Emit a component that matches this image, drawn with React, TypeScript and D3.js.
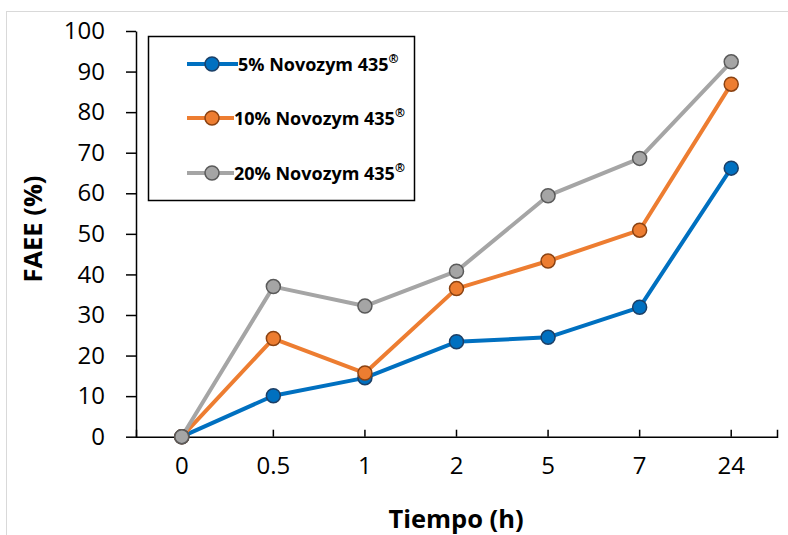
import React, { useRef, useEffect } from 'react';
import * as d3 from 'd3';

// values
const tiempos = ['0', '0.5', '1', '2', '5', '7', '24'];
const serie5 = [0, 10.1, 14.5, 23.4, 24.5, 31.9, 66.2];
const serie10 = [0, 24.2, 15.7, 36.5, 43.3, 50.9, 86.9];
const serie20 = [0, 37.0, 32.2, 40.8, 59.4, 68.6, 92.4];
const yTicks = [0, 10, 20, 30, 40, 50, 60, 70, 80, 90, 100];
const seriesNames = ['5% Novozym 435', '10% Novozym 435', '20% Novozym 435'];

const App = () => {
  const chartRef = useRef<SVGSVGElement | null>(null);

  useEffect(() => {
    if (!chartRef.current) return;
    const svg = d3.select(chartRef.current);
    svg.selectAll('*').remove();

    const width = 788;
    const height = 535;
    const margin = { top: 31, right: 11, bottom: 98.3, left: 136 };
    const font = "'Open Sans', 'Liberation Sans', sans-serif";

    const series = [
      { name: seriesNames[0], values: serie5, color: '#0070C0', edge: '#1c3f66' },
      { name: seriesNames[1], values: serie10, color: '#ED7D31', edge: '#8a4212' },
      { name: seriesNames[2], values: serie20, color: '#A5A5A5', edge: '#5a5a5a' },
    ];

    // outer chart area border (runs off the right and bottom of the picture)
    svg.append('rect')
      .attr('x', 6.5)
      .attr('y', 11.5)
      .attr('width', width + 20)
      .attr('height', height + 20)
      .attr('fill', '#fff')
      .attr('stroke', '#d9d9d9')
      .attr('stroke-width', 1);

    const x = d3.scaleBand()
      .domain(tiempos)
      .range([margin.left, width - margin.right]);

    const y = d3.scaleLinear()
      .domain([0, 100])
      .range([height - margin.bottom, margin.top]);

    const cx = (d: string) => (x(d) as number) + x.bandwidth() / 2;

    // y axis
    const yAxis = svg.append('g')
      .attr('transform', `translate(${margin.left},0)`)
      .call(d3.axisLeft(y).tickValues(yTicks).tickSize(10).tickSizeOuter(0).tickPadding(21));
    yAxis.select('.domain').attr('stroke', '#000').attr('stroke-width', 1.5);
    yAxis.selectAll('.tick line').attr('stroke', '#000').attr('stroke-width', 1.5);
    yAxis.selectAll('.tick text')
      .attr('fill', '#000')
      .style('font-family', font)
      .style('font-size', '24px');

    // x axis, ticks point up into the plot
    const xAxis = svg.append('g')
      .attr('transform', `translate(0,${height - margin.bottom})`)
      .call(d3.axisBottom(x).tickSize(-7).tickSizeOuter(-7).tickPadding(20));
    xAxis.select('.domain').attr('stroke', '#000').attr('stroke-width', 1.5);
    xAxis.selectAll('.tick line').attr('stroke', '#000').attr('stroke-width', 1.5);
    xAxis.selectAll('.tick text')
      .attr('fill', '#000')
      .style('font-family', font)
      .style('font-size', '24px');

    // axis titles
    svg.append('text')
      .attr('x', 456)
      .attr('y', 528)
      .attr('text-anchor', 'middle')
      .style('font-family', font)
      .style('font-weight', 'bold')
      .style('font-size', '25.5px')
      .text('Tiempo (h)');

    svg.append('text')
      .attr('transform', 'translate(42,229) rotate(-90)')
      .attr('text-anchor', 'middle')
      .style('font-family', font)
      .style('font-weight', 'bold')
      .style('font-size', '25.5px')
      .text('FAEE (%)');

    // lines and markers
    const line = d3.line<number>()
      .x((_, i) => cx(tiempos[i]))
      .y(d => y(d));

    series.forEach(s => {
      svg.append('path')
        .datum(s.values)
        .attr('fill', 'none')
        .attr('stroke', s.color)
        .attr('stroke-width', 4)
        .attr('stroke-linejoin', 'round')
        .attr('d', line);
    });

    series.forEach(s => {
      svg.append('g')
        .selectAll('circle')
        .data(s.values)
        .join('circle')
        .attr('cx', (_, i) => cx(tiempos[i]))
        .attr('cy', d => y(d))
        .attr('r', 7)
        .attr('fill', s.color)
        .attr('stroke', s.edge)
        .attr('stroke-width', 1.5);
    });

    // legend box
    const legend = svg.append('g');
    legend.append('rect')
      .attr('x', 148.5)
      .attr('y', 36.5)
      .attr('width', 266)
      .attr('height', 164)
      .attr('fill', '#fff')
      .attr('stroke', '#000')
      .attr('stroke-width', 1.5);

    const legendY = [64, 118, 173];
    const textX = [238, 234, 234];
    series.forEach((s, i) => {
      const g = legend.append('g').attr('transform', `translate(0,${legendY[i]})`);
      g.append('line')
        .attr('x1', 187)
        .attr('x2', textX[i])
        .attr('stroke', s.color)
        .attr('stroke-width', 4);
      g.append('circle')
        .attr('cx', 212)
        .attr('r', 7)
        .attr('fill', s.color)
        .attr('stroke', s.edge)
        .attr('stroke-width', 1.5);
      const t = g.append('text')
        .attr('x', textX[i])
        .attr('y', 6.5)
        .style('font-family', font)
        .style('font-weight', 'bold')
        .style('font-size', '18px')
        .text(s.name);
      t.append('tspan')
        .attr('dy', -8)
        .style('font-size', '12px')
        .text('®');
    });
  }, []);

  return (
    <div style={{ position: 'absolute', left: 0, top: 0 }}>
      <svg ref={chartRef} width="788" height="535" style={{ display: 'block' }}></svg>
    </div>
  );
};

export default App;
